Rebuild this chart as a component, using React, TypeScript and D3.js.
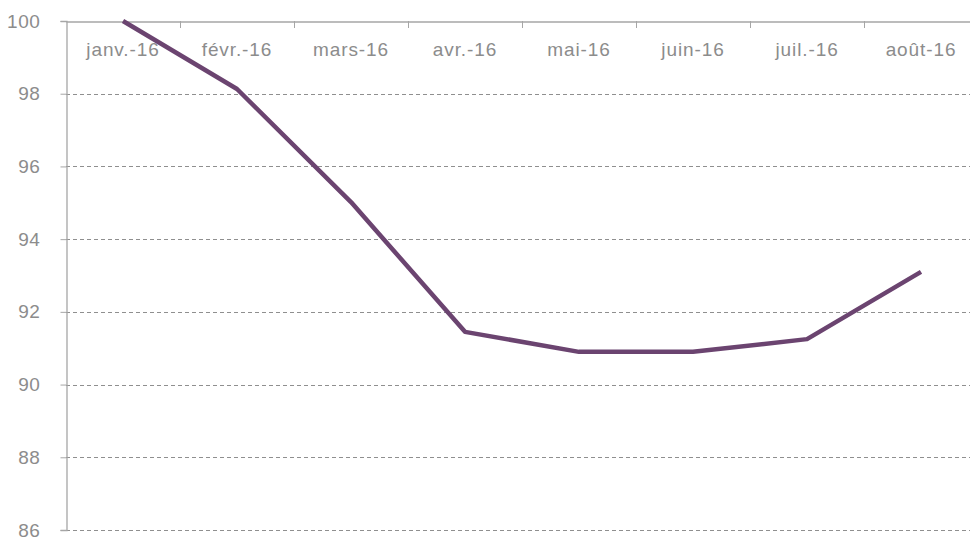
import React, { useEffect, useRef } from "react";
import * as d3 from "d3";

const months = ["janv.-16", "févr.-16", "mars-16", "avr.-16", "mai-16", "juin-16", "juil.-16", "août-16"];
const values = [100, 98.13, 95.02, 91.45, 90.9, 90.9, 91.25, 93.1];
const yTicks = [86, 88, 90, 92, 94, 96, 98, 100];

const App = () => {
  const svgRef = useRef<SVGSVGElement | null>(null);

  useEffect(() => {
    const width = 970;
    const height = 539;
    const margin = { top: 21, left: 66, bottom: 9 };
    const band = 114;

    const svg = d3.select(svgRef.current);
    svg.selectAll("*").remove();

    const x = d3
      .scaleBand()
      .domain(months)
      .range([margin.left, margin.left + band * months.length]);
    const y = d3
      .scaleLinear()
      .domain([86, 100])
      .range([height - margin.bottom, margin.top]);

    const font = "'Liberation Sans', Arial, sans-serif";
    const grey = "#8c8c8c";

    // dashed grid
    svg
      .append("g")
      .selectAll("line")
      .data(yTicks.filter((d) => d !== 100))
      .enter()
      .append("line")
      .attr("x1", margin.left)
      .attr("x2", width)
      .attr("y1", (d) => Math.round(y(d)) + 0.5)
      .attr("y2", (d) => Math.round(y(d)) + 0.5)
      .attr("stroke", "#8f8f8f")
      .attr("stroke-dasharray", "4,3");

    // left axis
    const yAxis = svg
      .append("g")
      .attr("transform", `translate(${margin.left + 0.5},0)`)
      .call(d3.axisLeft(y).tickValues(yTicks).tickSize(6).tickPadding(20));
    yAxis.select(".domain").attr("stroke", "#a6a6a6").attr("stroke-width", 1.3);
    yAxis.selectAll(".tick line").attr("stroke", "#a6a6a6");
    yAxis
      .selectAll("text")
      .attr("fill", grey)
      .style("font-family", font)
      .style("font-size", "19px")
      .style("letter-spacing", "0.6px");

    // top axis at 100
    const xAxis = svg
      .append("g")
      .attr("transform", `translate(0,${margin.top + 0.5})`)
      .call(d3.axisBottom(x).tickSize(0).tickPadding(21));
    xAxis.select(".domain").attr("stroke", "#a6a6a6").attr("stroke-width", 1.5);
    xAxis
      .selectAll("text")
      .attr("fill", grey)
      .style("font-family", font)
      .style("font-size", "19px")
      .style("letter-spacing", "0.9px");

    // category separators
    svg
      .append("g")
      .selectAll("line")
      .data(months.slice(1))
      .enter()
      .append("line")
      .attr("x1", (d) => (x(d) as number) + 0.5)
      .attr("x2", (d) => (x(d) as number) + 0.5)
      .attr("y1", margin.top)
      .attr("y2", margin.top + 7)
      .attr("stroke", "#a6a6a6");

    const line = d3
      .line<number>()
      .x((_, i) => (x(months[i]) as number) + x.bandwidth() / 2)
      .y((d) => y(d));

    svg
      .append("path")
      .datum(values)
      .attr("fill", "none")
      .attr("stroke", "#6b4470")
      .attr("stroke-width", 4.5)
      .attr("stroke-linejoin", "round")
      .attr("d", line);
  }, []);

  return (
    <svg
      ref={svgRef}
      width={970}
      height={539}
      style={{ position: "absolute", left: 0, top: 0, background: "#fff" }}
    ></svg>
  );
};

export default App;
